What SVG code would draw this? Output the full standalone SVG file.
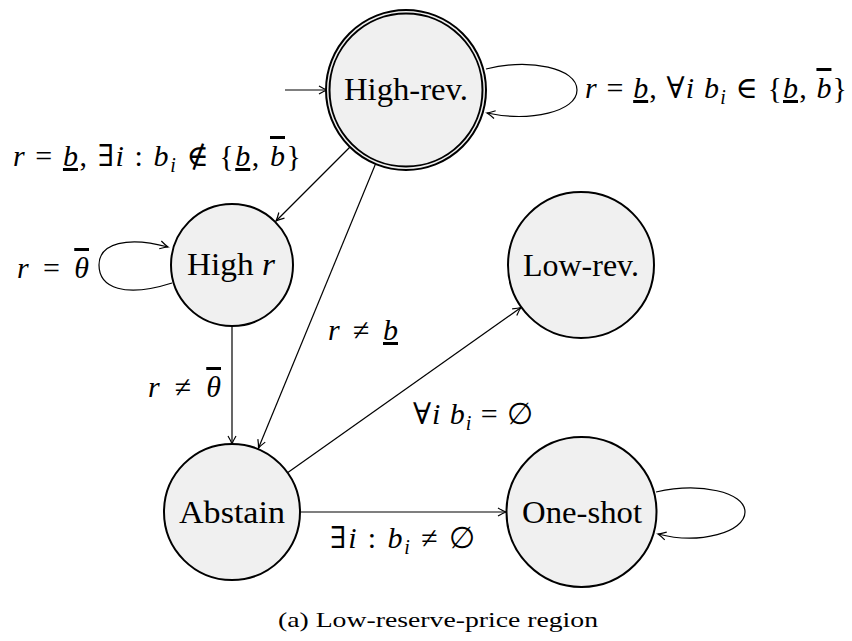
<svg xmlns="http://www.w3.org/2000/svg" width="852" height="641" viewBox="0 0 852 641">
<style>
.nd{fill:#f0f0f0;stroke:#000;stroke-width:2}
.nl{font-family:'Liberation Serif',serif;font-size:32px;text-anchor:middle;fill:#000}
.e{fill:none;stroke:#000;stroke-width:1.2;marker-end:url(#ah)}
.m{font-family:'Liberation Serif','DejaVu Serif',serif;font-size:30px;font-style:italic;fill:#000}
.n{font-style:normal}
.u{text-decoration:underline}
.o{text-decoration:overline}
.s{font-size:20px}
.cap{font-family:'Liberation Serif',serif;font-size:22px;fill:#000}
</style>
<defs>
<marker id="ah" markerUnits="userSpaceOnUse" viewBox="-10 -6 12 12" markerWidth="12" markerHeight="12" refX="0" refY="0" orient="auto">
<path d="M-8,-4 Q-2.8,-0.9 0,0 Q-2.8,0.9 -8,4" fill="none" stroke="#000" stroke-width="1.2"/>
</marker>
</defs>
<g id="connectors">
<path class="e" d="M285,90 L327,90"/>
<path class="e" d="M486,69 C530,58 577,68 577,90 C577,112 530,122 487,113"/>
<path class="e" d="M350,147 L276,221"/>
<path class="e" d="M375.5,164 L258.5,448"/>
<path class="e" d="M172,283 C125,298 99,288 99,265 C99,243 128,236 168,247"/>
<path class="e" d="M232,326 L232,444"/>
<path class="e" d="M287.5,472.7 L521,307.5"/>
<path class="e" d="M300,512 L506,512"/>
<path class="e" d="M656,492 C700,482 745,492 745,512 C745,532 700,545 658,534"/>
</g>
<g id="high-rev">
<circle class="nd" cx="406" cy="90" r="80"/>
<circle class="nd" cx="406" cy="90" r="76.5"/>
<text class="nl" x="406" y="100" textLength="124" lengthAdjust="spacingAndGlyphs">High-rev.</text>
</g>
<g id="high-r">
<circle class="nd" cx="232" cy="265" r="61"/>
<text class="nl" x="231" y="275" textLength="88" lengthAdjust="spacingAndGlyphs">High <tspan font-style="italic">r</tspan></text>
</g>
<g id="low-rev">
<circle class="nd" cx="581" cy="265" r="73"/>
<text class="nl" x="581" y="276" textLength="116" lengthAdjust="spacingAndGlyphs">Low-rev.</text>
</g>
<g id="abstain">
<circle class="nd" cx="232" cy="512" r="68"/>
<text class="nl" x="232" y="523" textLength="106" lengthAdjust="spacingAndGlyphs">Abstain</text>
</g>
<g id="one-shot">
<circle class="nd" cx="581.5" cy="512" r="75"/>
<text class="nl" x="582" y="523" textLength="120" lengthAdjust="spacingAndGlyphs">One-shot</text>
</g>
<g id="labels">
<text class="m" x="585" y="98" textLength="262" lengthAdjust="spacing">r <tspan class="n">=</tspan> <tspan class="u">b</tspan><tspan class="n">, ∀</tspan>i b<tspan class="s" dy="6">i</tspan><tspan class="n" dy="-6"> ∈ {</tspan><tspan class="u">b</tspan><tspan class="n">, </tspan><tspan class="o">b</tspan><tspan class="n">}</tspan></text>
<text class="m" x="13" y="166" textLength="288" lengthAdjust="spacing">r <tspan class="n">=</tspan> <tspan class="u">b</tspan><tspan class="n">, ∃</tspan>i <tspan class="n">:</tspan>  b<tspan class="s" dy="6">i</tspan><tspan class="n" dy="-6"> ∉ {</tspan><tspan class="u">b</tspan><tspan class="n">, </tspan><tspan class="o">b</tspan><tspan class="n">}</tspan></text>
<text class="m" x="17" y="278" textLength="72" lengthAdjust="spacing">r <tspan class="n">=</tspan> <tspan class="o">θ</tspan></text>
<text class="m" x="328" y="340" textLength="70" lengthAdjust="spacing">r <tspan class="n">≠</tspan> <tspan class="u">b</tspan></text>
<text class="m" x="148" y="397" textLength="73" lengthAdjust="spacing">r <tspan class="n">≠</tspan> <tspan class="o">θ</tspan></text>
<text class="m" x="413" y="424" textLength="120" lengthAdjust="spacing"><tspan class="n">∀</tspan>i b<tspan class="s" dy="6">i</tspan><tspan class="n" dy="-6"> = ∅</tspan></text>
<text class="m" x="330" y="548" textLength="145" lengthAdjust="spacing"><tspan class="n">∃</tspan>i <tspan class="n">:</tspan>  b<tspan class="s" dy="6">i</tspan><tspan class="n" dy="-6"> ≠ ∅</tspan></text>
</g>
<text class="cap" x="278" y="627" textLength="320" lengthAdjust="spacingAndGlyphs">(a) Low-reserve-price region</text>
</svg>
